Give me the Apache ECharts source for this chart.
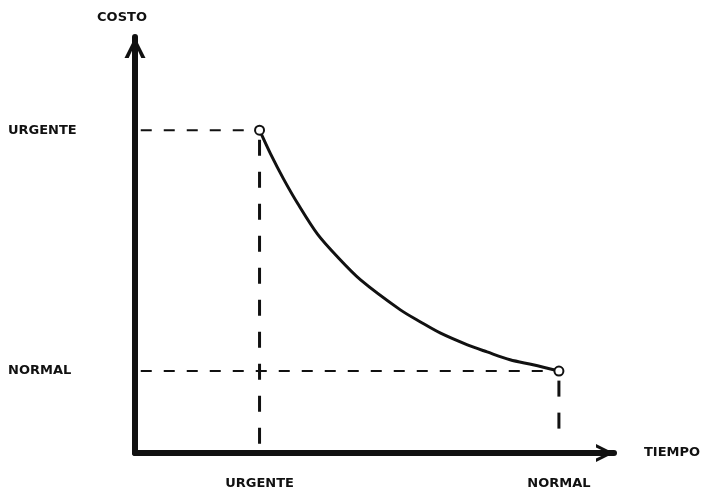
<!DOCTYPE html>
<html>
<head>
<meta charset="utf-8">
<script src="https://cdn.jsdelivr.net/npm/echarts@6/dist/echarts.min.js"></script>
<style>
  html, body { margin: 0; padding: 0; background: #fff; }
  #chart { width: 712px; height: 493px; }
</style>
</head>
<body>
<div id="chart"></div>
<script>
// curve (time 0-100, cost 0-100)
const curveTime = [26, 28.3, 31, 34, 38.1, 42.3, 47.1, 55.4, 59.6, 63.8, 69.4, 73.5, 78.3, 83.1, 88.5];
const curveCost = [77.6, 71.9, 65.9, 59.9, 52.6, 47.1, 41.6, 34.4, 31.5, 28.8, 26.0, 24.3, 22.4, 21.2, 19.7];

// the two marked points: urgent and normal
const timeLevels = [26, 88.5];
const timeLabels = ["URGENTE", "NORMAL"];
const costLevels = [77.6, 19.7];
const costLabels = ["URGENTE", "NORMAL"];
// where the vertical guides stop above the time axis
const guideEnds = [1.5, 5.5];

const font = "DejaVu Sans";
const ink = "#111";
const chevron = "path://M0,20 L10,0 L20,20 L16,20 L10,7 L4,20 Z";

function labelFor(values, labels) {
  return function (v) {
    for (let i = 0; i < values.length; i++) {
      if (Math.abs(values[i] - v) < 0.01) return labels[i];
    }
    return "";
  };
}

const curveData = curveTime.map((t, i) => [t, curveCost[i]]);
const pointData = timeLevels.map((t, i) => [t, costLevels[i]]);

const dashH = { color: ink, width: 2, type: [11, 12] };
const dashV = { color: ink, width: 3, type: [16, 16] };

const guideSeries = [];
for (let i = 0; i < timeLevels.length; i++) {
  guideSeries.push({
    type: "line",
    data: [[1.2, costLevels[i]], [timeLevels[i] - 0.9, costLevels[i]]],
    symbol: "none",
    lineStyle: dashH,
    silent: true
  });
  guideSeries.push({
    type: "line",
    data: [[timeLevels[i], costLevels[i] - 2.3], [timeLevels[i], guideEnds[i]]],
    symbol: "none",
    lineStyle: dashV,
    silent: true
  });
}

const chart = echarts.init(document.getElementById("chart"), null, { renderer: "canvas" });

const textStyle = { fontFamily: font, fontWeight: "bold", fontSize: 13, color: ink };

chart.setOption({
  animation: false,
  backgroundColor: "#fff",
  grid: { left: 135, right: 98, top: 37, bottom: 40 },
  xAxis: {
    type: "value",
    min: 0,
    max: 100,
    name: "TIEMPO",
    nameLocation: "end",
    nameGap: 30,
    nameTextStyle: Object.assign({}, textStyle, { align: "left", verticalAlign: "middle" }),
    axisLine: {
      lineStyle: { color: ink, width: 6 },
      symbol: ["none", chevron],
      symbolSize: [28, 18],
      symbolOffset: [0, -9]
    },
    axisTick: { show: false },
    splitLine: { show: false },
    axisLabel: Object.assign({
      customValues: timeLevels,
      formatter: labelFor(timeLevels, timeLabels),
      margin: 24
    }, textStyle)
  },
  yAxis: {
    type: "value",
    min: 0,
    max: 100,
    name: "COSTO",
    nameLocation: "end",
    nameGap: 13,
    nameTextStyle: Object.assign({}, textStyle, { padding: [0, 26, 0, 0] }),
    axisLine: {
      lineStyle: { color: ink, width: 6 },
      symbol: ["none", chevron],
      symbolSize: [31, 21],
      symbolOffset: [0, -10.5]
    },
    axisTick: { show: false },
    splitLine: { show: false },
    axisLabel: Object.assign({
      customValues: costLevels,
      formatter: labelFor(costLevels, costLabels),
      align: "left",
      margin: 127
    }, textStyle)
  },
  series: guideSeries.concat([
    {
      type: "line",
      data: curveData,
      smooth: 0.3,
      symbol: "none",
      lineStyle: { color: ink, width: 3 }
    },
    {
      type: "scatter",
      data: pointData,
      symbol: "circle",
      symbolSize: 9,
      itemStyle: { color: "#fff", borderColor: ink, borderWidth: 2, opacity: 1 },
      z: 5
    }
  ])
});
</script>
</body>
</html>
